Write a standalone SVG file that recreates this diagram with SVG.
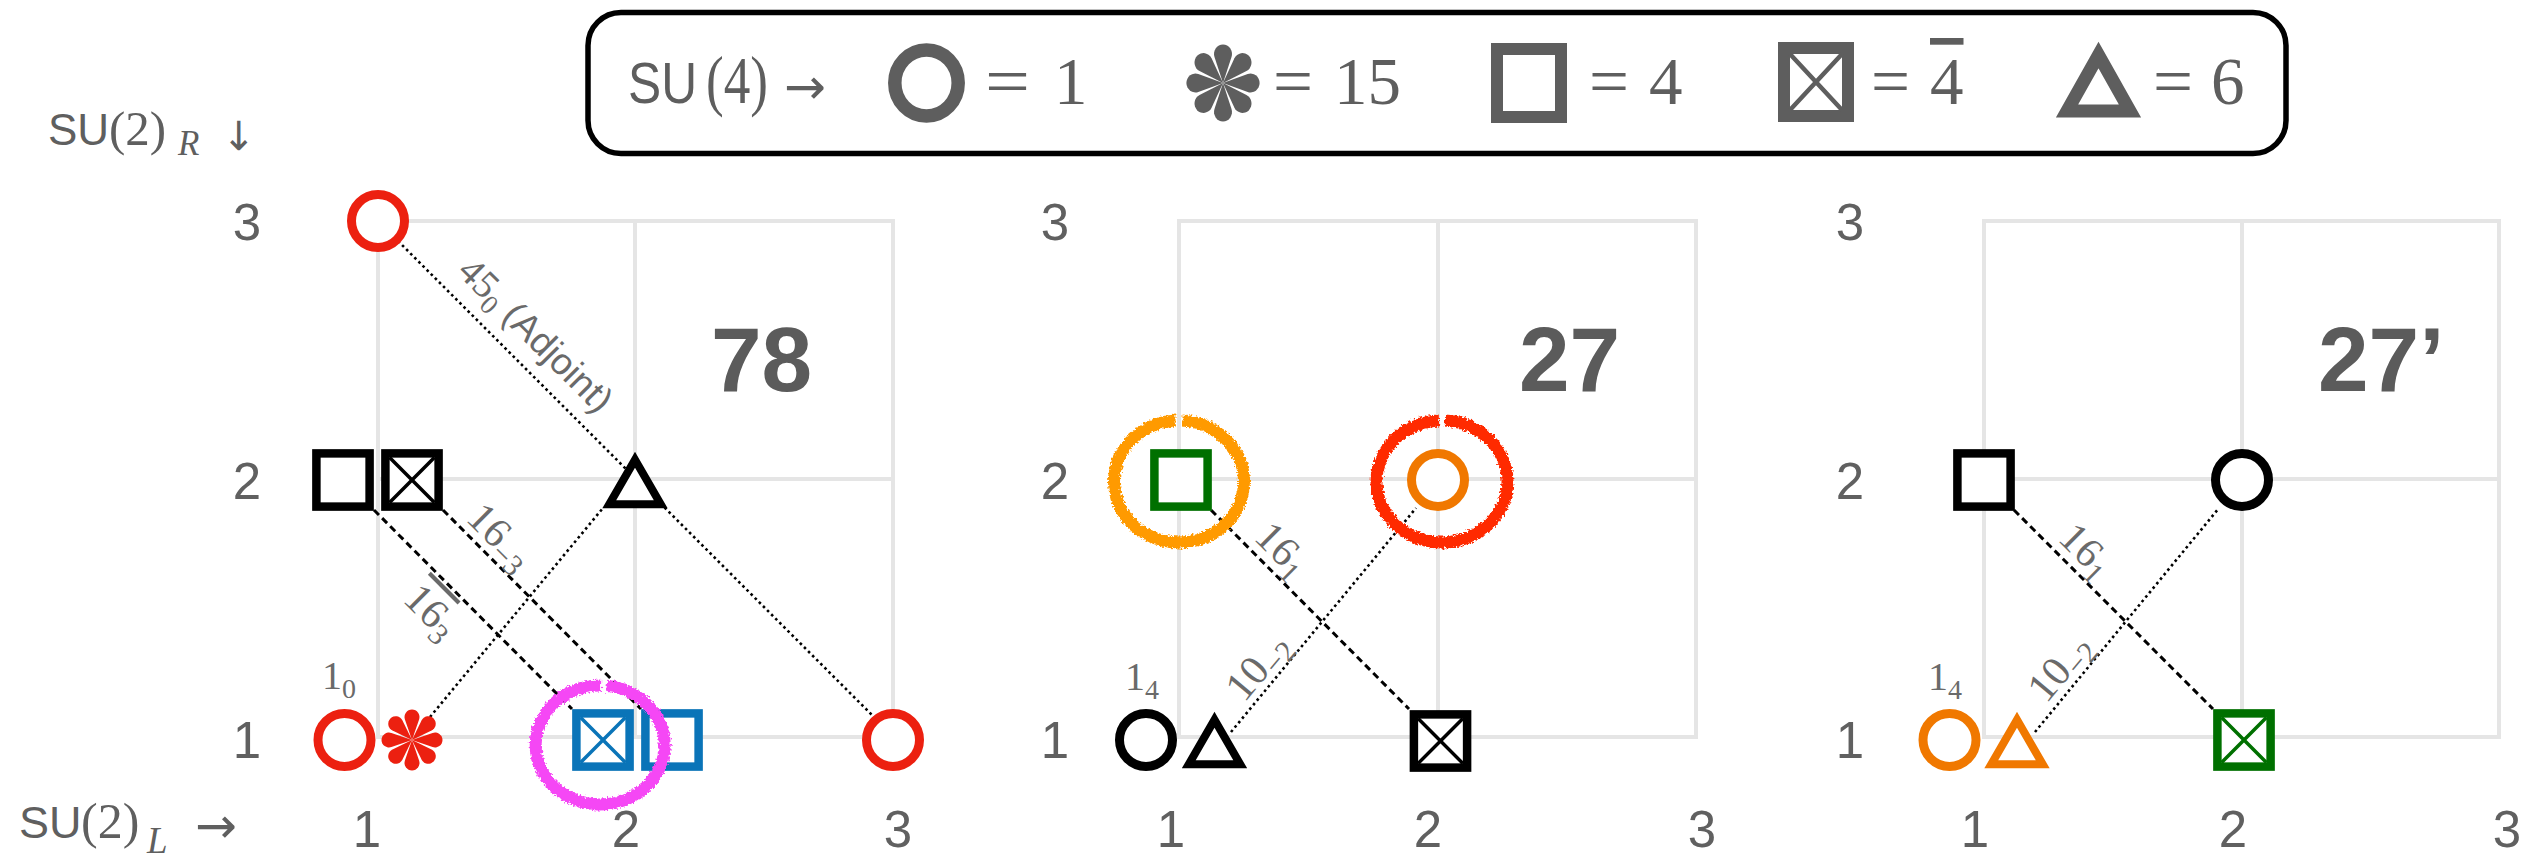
<svg xmlns="http://www.w3.org/2000/svg" width="2547" height="857" viewBox="0 0 2547 857">
<style>
.grid{stroke:#e5e5e5;stroke-width:4;fill:none;stroke-linecap:square}
.tick{font-family:"Liberation Sans",Arial,sans-serif;font-size:51px;fill:#606060;text-anchor:middle}
.big{font-family:"Liberation Sans",Arial,sans-serif;font-weight:bold;font-size:91px;fill:#5b5b5b}
.ser{font-family:"Liberation Serif","Times New Roman",serif;fill:#6a6a6a}
.sans{font-family:"Liberation Sans",Arial,sans-serif;fill:#6a6a6a}
.ax{fill:#5f5f5f}
.arr{font-family:"DejaVu Sans",sans-serif;fill:#5f5f5f}
.dot{stroke:#000;stroke-width:2.6;stroke-dasharray:2.6 3.2;fill:none}
.dash{stroke:#000;stroke-width:3;stroke-dasharray:7 4.5;fill:none}
.rough{fill:none;stroke-width:12;filter:url(#rough)}
.lg{font-family:"Liberation Serif","Times New Roman",serif;font-size:67px;fill:#5e5e5e}
</style>
<defs>
<filter id="rough" x="-20%" y="-20%" width="140%" height="140%">
<feTurbulence type="fractalNoise" baseFrequency="0.45" numOctaves="2" seed="3"/>
<feDisplacementMap in="SourceGraphic" scale="6" xChannelSelector="R" yChannelSelector="G"/>
</filter>
<circle id="c" r="26.5" fill="#fff" stroke="currentColor" stroke-width="9"/>
<rect id="s" x="-26.6" y="-26.6" width="53.2" height="53.2" fill="#fff" stroke="currentColor" stroke-width="8.5"/>
<g id="x"><use href="#s"/><path d="M-22.4,-22.4L22.4,22.4M22.4,-22.4L-22.4,22.4" stroke="currentColor" stroke-width="3.5"/></g>
<polygon id="t" points="0,-20.3 25.75,24.3 -25.75,24.3" fill="#fff" stroke="currentColor" stroke-width="8" stroke-linejoin="miter"/>
<path id="pt" d="M0,0L7.09,-20.55A7.5,7.5 0 1 0 -7.09,-20.55Z" fill="currentColor"/>
<g id="f">
<use href="#pt"/><use href="#pt" transform="rotate(45)"/><use href="#pt" transform="rotate(90)"/><use href="#pt" transform="rotate(135)"/>
<use href="#pt" transform="rotate(180)"/><use href="#pt" transform="rotate(225)"/><use href="#pt" transform="rotate(270)"/><use href="#pt" transform="rotate(315)"/>
</g>
</defs>
<rect width="2547" height="857" fill="#fff"/>

<g id="legend">
<rect x="588" y="12.5" width="1698" height="141" rx="33" fill="#fff" stroke="#000" stroke-width="5.5"/>
<text x="628" y="103" font-family="Liberation Sans, Arial, sans-serif" font-size="58" fill="#5e5e5e" textLength="69" lengthAdjust="spacingAndGlyphs">SU</text>
<text x="706" y="103" class="lg" textLength="62" lengthAdjust="spacingAndGlyphs">(4)</text>
<text x="784" y="104" class="arr" font-size="50" fill="#5e5e5e">→</text>
<ellipse cx="926.5" cy="83" rx="31.7" ry="33" fill="none" stroke="#5e5e5e" stroke-width="13.5"/>
<text x="985" y="104" class="lg" textLength="45" lengthAdjust="spacingAndGlyphs">=</text>
<text x="1054" y="104" class="lg">1</text>
<use href="#f" transform="translate(1223,83) scale(1.2,1.26)" style="color:#5e5e5e"/>
<text x="1273" y="104" class="lg" textLength="40" lengthAdjust="spacingAndGlyphs">=</text>
<text x="1334" y="104" class="lg">15</text>
<rect x="1497" y="49" width="64" height="68" fill="none" stroke="#5e5e5e" stroke-width="12"/>
<text x="1589" y="104" class="lg" textLength="40" lengthAdjust="spacingAndGlyphs">=</text>
<text x="1649" y="104" class="lg">4</text>
<g>
<rect x="1784" y="48" width="64" height="68" fill="none" stroke="#5e5e5e" stroke-width="12"/>
<path d="M1790,54L1842,110M1842,54L1790,110" stroke="#5e5e5e" stroke-width="4.5"/>
</g>
<text x="1871" y="104" class="lg" textLength="39" lengthAdjust="spacingAndGlyphs">=</text>
<text x="1930" y="104" class="lg" text-decoration="overline">4</text>
<polygon points="2098.5,55 2130,111 2067,111" fill="none" stroke="#5e5e5e" stroke-width="13" stroke-linejoin="miter"/>
<text x="2153" y="104" class="lg" textLength="40" lengthAdjust="spacingAndGlyphs">=</text>
<text x="2211" y="104" class="lg">6</text>
</g>

<g id="axes">
<text x="48" y="145" font-family="Liberation Sans, Arial, sans-serif" font-size="44" class="ax">SU</text>
<text x="109" y="145" font-family="Liberation Serif, Times New Roman, serif" font-size="49" class="ax">(2)</text>
<text x="178" y="155" font-family="Liberation Serif, Times New Roman, serif" font-style="italic" font-size="35" class="ax">R</text>
<text x="222" y="150" class="arr" font-size="40">↓</text>
<text x="19" y="838" font-family="Liberation Sans, Arial, sans-serif" font-size="45" class="ax">SU</text>
<text x="81" y="838" font-family="Liberation Serif, Times New Roman, serif" font-size="50" class="ax">(2)</text>
<text x="147" y="853" font-family="Liberation Serif, Times New Roman, serif" font-style="italic" font-size="37" class="ax">L</text>
<text x="195" y="843" class="arr" font-size="50">→</text>
</g>

<g id="grids">
<path class="grid" d="M378,221V737M635,221V737M893,221V737M378,221H893M378,479H893M378,737H893"/>
<path class="grid" d="M1179,221V737M1438,221V737M1696,221V737M1179,221H1696M1179,479H1696M1179,737H1696"/>
<path class="grid" d="M1984,221V737M2242,221V737M2499,221V737M1984,221H2499M1984,479H2499M1984,737H2499"/>
</g>

<g id="ticks" class="tick">
<text x="247" y="240">3</text><text x="247" y="499">2</text><text x="247" y="758">1</text>
<text x="367" y="847">1</text><text x="626" y="847">2</text><text x="898" y="847">3</text>
<text x="1055" y="240">3</text><text x="1055" y="499">2</text><text x="1055" y="758">1</text>
<text x="1171" y="847">1</text><text x="1428" y="847">2</text><text x="1702" y="847">3</text>
<text x="1850" y="240">3</text><text x="1850" y="499">2</text><text x="1850" y="758">1</text>
<text x="1975" y="847">1</text><text x="2233" y="847">2</text><text x="2507" y="847">3</text>
</g>

<g id="titles">
<text x="711" y="391" class="big">78</text>
<text x="1519" y="391" class="big">27</text>
<text x="2318" y="391" class="big">27’</text>
</g>

<g id="connectors">
<line class="dot" x1="398" y1="241" x2="873" y2="716"/>
<line class="dot" x1="430" y1="717" x2="603" y2="508"/>
<line class="dash" x1="374" y1="510" x2="572" y2="709"/>
<line class="dash" x1="443" y1="510" x2="641" y2="709"/>
<line class="dash" x1="1211" y1="510" x2="1409" y2="709"/>
<line class="dot" x1="1231" y1="732" x2="1416" y2="508"/>
<line class="dash" x1="2014" y1="510" x2="2213" y2="709"/>
<line class="dot" x1="2035" y1="732" x2="2219" y2="508"/>
<text class="ser" font-size="39" text-anchor="middle" transform="translate(527,344) rotate(45)">45<tspan font-size="27" dy="8">0</tspan><tspan class="sans" font-size="37" dy="-8"> (Adjoint)</tspan></text>
<text class="ser" font-size="42" text-anchor="middle" transform="translate(491,546) rotate(45)">16<tspan font-size="30" dy="8">−3</tspan></text>
<text class="ser" font-size="42" text-anchor="middle" transform="translate(422,621) rotate(45)"><tspan text-decoration="overline">16</tspan><tspan font-size="30" dy="8">3</tspan></text>
<text class="ser" font-size="42" text-anchor="middle" transform="translate(1273,559) rotate(45)">16<tspan font-size="30" dy="8">1</tspan></text>
<text class="ser" font-size="42" text-anchor="middle" transform="translate(1268,675) rotate(-50)">10<tspan font-size="30" dy="8">−2</tspan></text>
<text class="ser" font-size="42" text-anchor="middle" transform="translate(2077,560) rotate(45)">16<tspan font-size="30" dy="8">1</tspan></text>
<text class="ser" font-size="42" text-anchor="middle" transform="translate(2070,676) rotate(-50)">10<tspan font-size="30" dy="8">−2</tspan></text>
</g>

<g id="panel78">
<use id="n78-c3" href="#c" x="378" y="221" style="color:#ec2010"/>
<use id="n78-s" href="#s" x="343" y="480" style="color:#000"/>
<use id="n78-x" href="#x" x="412" y="480" style="color:#000"/>
<use id="n78-t" href="#t" x="635" y="480" style="color:#000"/>
<use id="n78-c1" href="#c" x="344.5" y="740" style="color:#ec2010"/>
<use id="n78-f" href="#f" x="412" y="740" style="color:#ec2010"/>
<use id="n78-bx" href="#x" x="603" y="740" style="color:#0a74b8"/>
<use id="n78-bs" href="#s" x="672" y="740" style="color:#0a74b8"/>
<use id="n78-c31" href="#c" x="893" y="740" style="color:#ec2010"/>
<text class="ser" font-size="40" x="322" y="689">1<tspan font-size="28" dy="9">0</tspan></text>
<path class="rough" stroke="#f546f5" d="M606.7,685.8A64.5,59.5 0 1 1 601.1,685.5"/>
</g>

<g id="panel27">
<use id="n27-gs" href="#s" x="1181" y="480" style="color:#007000"/>
<use id="n27-oc" href="#c" x="1438" y="480" style="color:#f07800"/>
<use id="n27-c" href="#c" x="1146" y="740" style="color:#000"/>
<use id="n27-t" href="#t" x="1214.5" y="740" style="color:#000"/>
<use id="n27-x" href="#x" x="1440.5" y="741" style="color:#000"/>
<text class="ser" font-size="40" x="1125" y="690">1<tspan font-size="28" dy="9">4</tspan></text>
<path class="rough" stroke="#ff9a00" d="M1182.4,420.6A65,61 0 1 1 1175.6,420.6"/>
<path class="rough" stroke="#ff2a00" d="M1445,420.6A65.5,61 0 1 1 1439,420.6"/>
</g>

<g id="panel27p">
<use id="n27p-s" href="#s" x="1984" y="480" style="color:#000"/>
<use id="n27p-c" href="#c" x="2242" y="480" style="color:#000"/>
<use id="n27p-oc" href="#c" x="1949.5" y="740" style="color:#f07800"/>
<use id="n27p-t" href="#t" x="2017" y="740" style="color:#f07800"/>
<use id="n27p-x" href="#x" x="2244" y="740" style="color:#007000"/>
<text class="ser" font-size="40" x="1928" y="690">1<tspan font-size="28" dy="9">4</tspan></text>
</g>
</svg>
